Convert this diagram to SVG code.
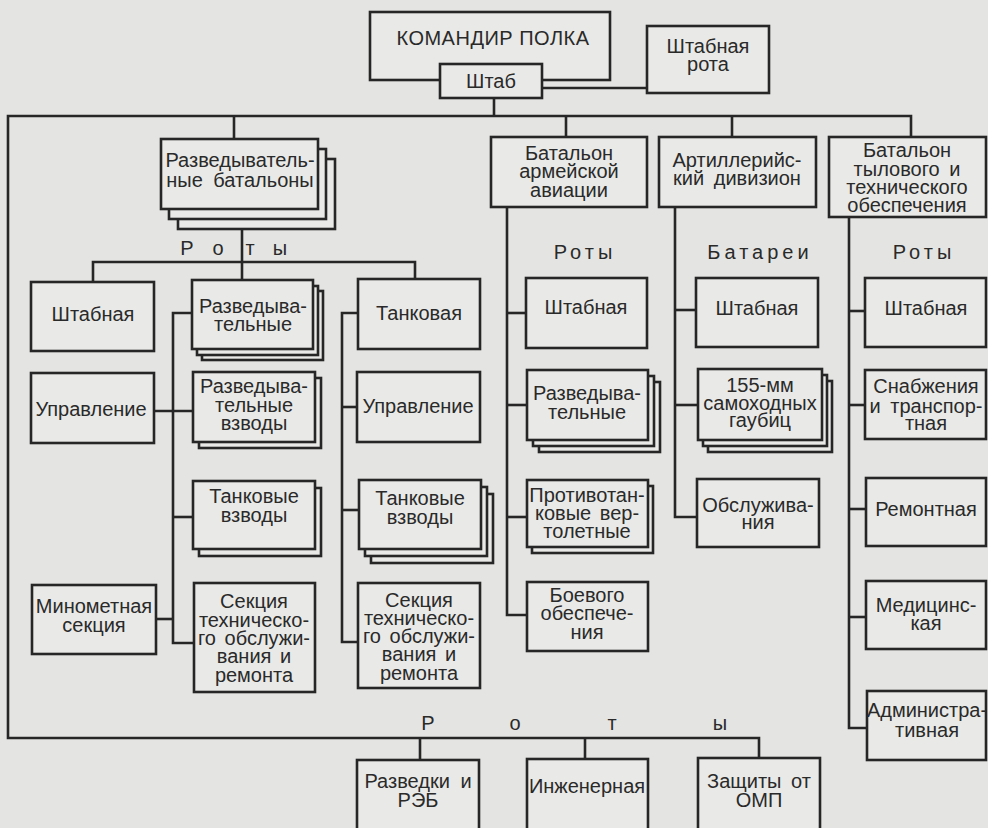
<svg xmlns="http://www.w3.org/2000/svg" width="988" height="828" viewBox="0 0 988 828">
<style>
.b{fill:#e9e9e7;stroke:#262626;stroke-width:2.6}
.c{fill:none;stroke:#262626;stroke-width:2.6}
text{font-family:"Liberation Sans",Arial,sans-serif;font-size:20px;fill:#2a2a2a;text-anchor:middle}
.sp{letter-spacing:4px}
</style>
<rect x="0" y="0" width="988" height="828" fill="#e4e4e2"/>
<g id="connectors" class="c">
<polyline points="542,88 647,88"/>
<polyline points="494,98 494,116"/>
<polyline points="911,137 911,116 8,116 8,738 759,738 759,758"/>
<polyline points="420,738 420,760"/>
<polyline points="585,738 585,759"/>
<polyline points="234,116 234,139"/>
<polyline points="566,116 566,137"/>
<polyline points="732,116 732,137"/>
<polyline points="242,229 242,262"/>
<polyline points="93,282 93,262 415,262 415,279"/>
<polyline points="242,262 242,280"/>
<polyline points="192,313 173,313 173,643 194,643"/>
<polyline points="154,411 193,411"/>
<polyline points="173,517 193,517"/>
<polyline points="156,619 173,619"/>
<polyline points="358,313 342,313 342,642 358,642"/>
<polyline points="342,407 357,407"/>
<polyline points="342,510 359,510"/>
<polyline points="507,207 507,615 527,615"/>
<polyline points="507,313 526,313"/>
<polyline points="507,405 527,405"/>
<polyline points="507,517 527,517"/>
<polyline points="675,207 675,517 697,517"/>
<polyline points="675,310 696,310"/>
<polyline points="675,405 698,405"/>
<polyline points="849,217 849,728 867,728"/>
<polyline points="849,311 865,311"/>
<polyline points="849,405 865,405"/>
<polyline points="849,509 866,509"/>
<polyline points="849,617 866,617"/>
</g>
<g id="n-commander"><rect class="b" x="370" y="12" width="240" height="68"/><text x="493" y="45" style="letter-spacing:0.5px">КОМАНДИР ПОЛКА</text></g>
<g id="n-shtab"><rect class="b" x="440" y="64" width="102" height="34"/><text x="491" y="88">Штаб</text></g>
<g id="n-shtab-rota"><rect class="b" x="647" y="26" width="122" height="67"/><text x="708" y="53">Штабная</text><text x="708" y="71">рота</text></g>
<g id="n-razv-bat"><rect class="b" x="178" y="159" width="157" height="70"/><rect class="b" x="169" y="149" width="157" height="70"/><rect class="b" x="161" y="139" width="157" height="70"/><text x="240" y="167">Разведыватель-</text><text x="240" y="187" style="word-spacing:5px">ные батальоны</text></g>
<g id="n-avia"><rect class="b" x="491" y="137" width="156" height="70"/><text x="569" y="160">Батальон</text><text x="569" y="178">армейской</text><text x="569" y="197">авиации</text></g>
<g id="n-art"><rect class="b" x="659" y="137" width="157" height="70"/><text x="737" y="167">Артиллерийс-</text><text x="737" y="185" style="word-spacing:4px">кий дивизион</text></g>
<g id="n-tyl"><rect class="b" x="829" y="137" width="157" height="80"/><text x="907" y="157">Батальон</text><text x="907" y="176" style="word-spacing:4px">тылового и</text><text x="907" y="194">технического</text><text x="907" y="212">обеспечения</text></g>
<g id="lbl-roty-1"><text x="187" y="255">Р</text><text x="218" y="255">о</text><text x="250" y="255">т</text><text x="280" y="255">ы</text></g>
<g id="lbl-roty-2"><text class="sp" x="585" y="259">Роты</text></g>
<g id="lbl-batarei"><text class="sp" x="760" y="259">Батареи</text></g>
<g id="lbl-roty-3"><text class="sp" x="924" y="259">Роты</text></g>
<g id="lbl-roty-4"><text x="428" y="730">Р</text><text x="515" y="730">о</text><text x="612" y="730">т</text><text x="720" y="730">ы</text></g>
<g id="n-shtabnaya-l"><rect class="b" x="31" y="282" width="123" height="69"/><text x="93" y="321">Штабная</text></g>
<g id="n-razv-l"><rect class="b" x="202" y="291" width="121" height="69"/><rect class="b" x="197" y="286" width="121" height="69"/><rect class="b" x="192" y="280" width="121" height="69"/><text x="253" y="313">Разведыва-</text><text x="253" y="331">тельные</text></g>
<g id="n-tankovaya"><rect class="b" x="358" y="279" width="122" height="70"/><text x="419" y="320">Танковая</text></g>
<g id="n-upr-l"><rect class="b" x="31" y="373" width="123" height="70"/><text x="91" y="416">Управление</text></g>
<g id="n-razv-vzv"><rect class="b" x="199" y="378" width="122" height="70"/><rect class="b" x="193" y="372" width="122" height="70"/><text x="254" y="393">Разведыва-</text><text x="254" y="412">тельные</text><text x="254" y="430">взводы</text></g>
<g id="n-upr-r"><rect class="b" x="357" y="372" width="123" height="70"/><text x="418" y="413">Управление</text></g>
<g id="n-tank-vzv-l"><rect class="b" x="199" y="488" width="122" height="68"/><rect class="b" x="193" y="481" width="122" height="68"/><text x="254" y="503">Танковые</text><text x="254" y="522">взводы</text></g>
<g id="n-tank-vzv-r"><rect class="b" x="371" y="494" width="122" height="69"/><rect class="b" x="365" y="487" width="122" height="69"/><rect class="b" x="359" y="480" width="122" height="69"/><text x="420" y="505">Танковые</text><text x="420" y="524">взводы</text></g>
<g id="n-minomet"><rect class="b" x="32" y="585" width="124" height="69"/><text x="94" y="613">Минометная</text><text x="94" y="632">секция</text></g>
<g id="n-sekciya-l"><rect class="b" x="194" y="583" width="121" height="109"/><text x="254" y="608">Секция</text><text x="254" y="627">техническо-</text><text x="254" y="645" style="word-spacing:3px">го обслужи-</text><text x="254" y="663" style="word-spacing:3px">вания и</text><text x="254" y="682">ремонта</text></g>
<g id="n-sekciya-r"><rect class="b" x="358" y="583" width="122" height="105"/><text x="419" y="607">Секция</text><text x="419" y="625">техническо-</text><text x="419" y="643" style="word-spacing:3px">го обслужи-</text><text x="419" y="661" style="word-spacing:3px">вания и</text><text x="419" y="680">ремонта</text></g>
<g id="n-shtabnaya-avia"><rect class="b" x="526" y="278" width="121" height="70"/><text x="586" y="314">Штабная</text></g>
<g id="n-razv-avia"><rect class="b" x="539" y="382" width="121" height="70"/><rect class="b" x="533" y="376" width="121" height="70"/><rect class="b" x="527" y="370" width="121" height="70"/><text x="587" y="400">Разведыва-</text><text x="587" y="419">тельные</text></g>
<g id="n-ptv"><rect class="b" x="532" y="486" width="121" height="67"/><rect class="b" x="527" y="480" width="121" height="67"/><text x="587" y="502">Противотан-</text><text x="587" y="520" style="word-spacing:3px">ковые вер-</text><text x="587" y="538">толетные</text></g>
<g id="n-boevogo"><rect class="b" x="527" y="582" width="121" height="69"/><text x="587" y="602">Боевого</text><text x="587" y="620">обеспече-</text><text x="587" y="639">ния</text></g>
<g id="n-shtabnaya-art"><rect class="b" x="696" y="278" width="122" height="69"/><text x="757" y="315">Штабная</text></g>
<g id="n-155"><rect class="b" x="708" y="381" width="124" height="71"/><rect class="b" x="703" y="375" width="124" height="71"/><rect class="b" x="698" y="369" width="124" height="71"/><text x="760" y="392">155-мм</text><text x="760" y="410">самоходных</text><text x="760" y="427">гаубиц</text></g>
<g id="n-obsl"><rect class="b" x="697" y="479" width="122" height="68"/><text x="758" y="512">Обслужива-</text><text x="758" y="529">ния</text></g>
<g id="n-shtabnaya-tyl"><rect class="b" x="865" y="278" width="121" height="69"/><text x="926" y="315">Штабная</text></g>
<g id="n-snab"><rect class="b" x="865" y="370" width="121" height="69"/><text x="926" y="393">Снабжения</text><text x="926" y="413" style="word-spacing:4px">и транспор-</text><text x="926" y="430">тная</text></g>
<g id="n-remont"><rect class="b" x="866" y="478" width="120" height="68"/><text x="926" y="516">Ремонтная</text></g>
<g id="n-med"><rect class="b" x="866" y="581" width="120" height="68"/><text x="926" y="612">Медицинс-</text><text x="926" y="630">кая</text></g>
<g id="n-admin"><rect class="b" x="867" y="691" width="119" height="69"/><text x="927" y="717">Администра-</text><text x="927" y="737">тивная</text></g>
<g id="n-razv-reb"><rect class="b" x="357" y="760" width="122" height="90"/><text x="418" y="788" style="word-spacing:5px">Разведки и</text><text x="418" y="807">РЭБ</text></g>
<g id="n-inzh"><rect class="b" x="527" y="759" width="121" height="90"/><text x="587" y="793">Инженерная</text></g>
<g id="n-zashchity"><rect class="b" x="698" y="758" width="122" height="90"/><text x="759" y="788" style="word-spacing:4px">Защиты от</text><text x="759" y="807">ОМП</text></g>
</svg>
